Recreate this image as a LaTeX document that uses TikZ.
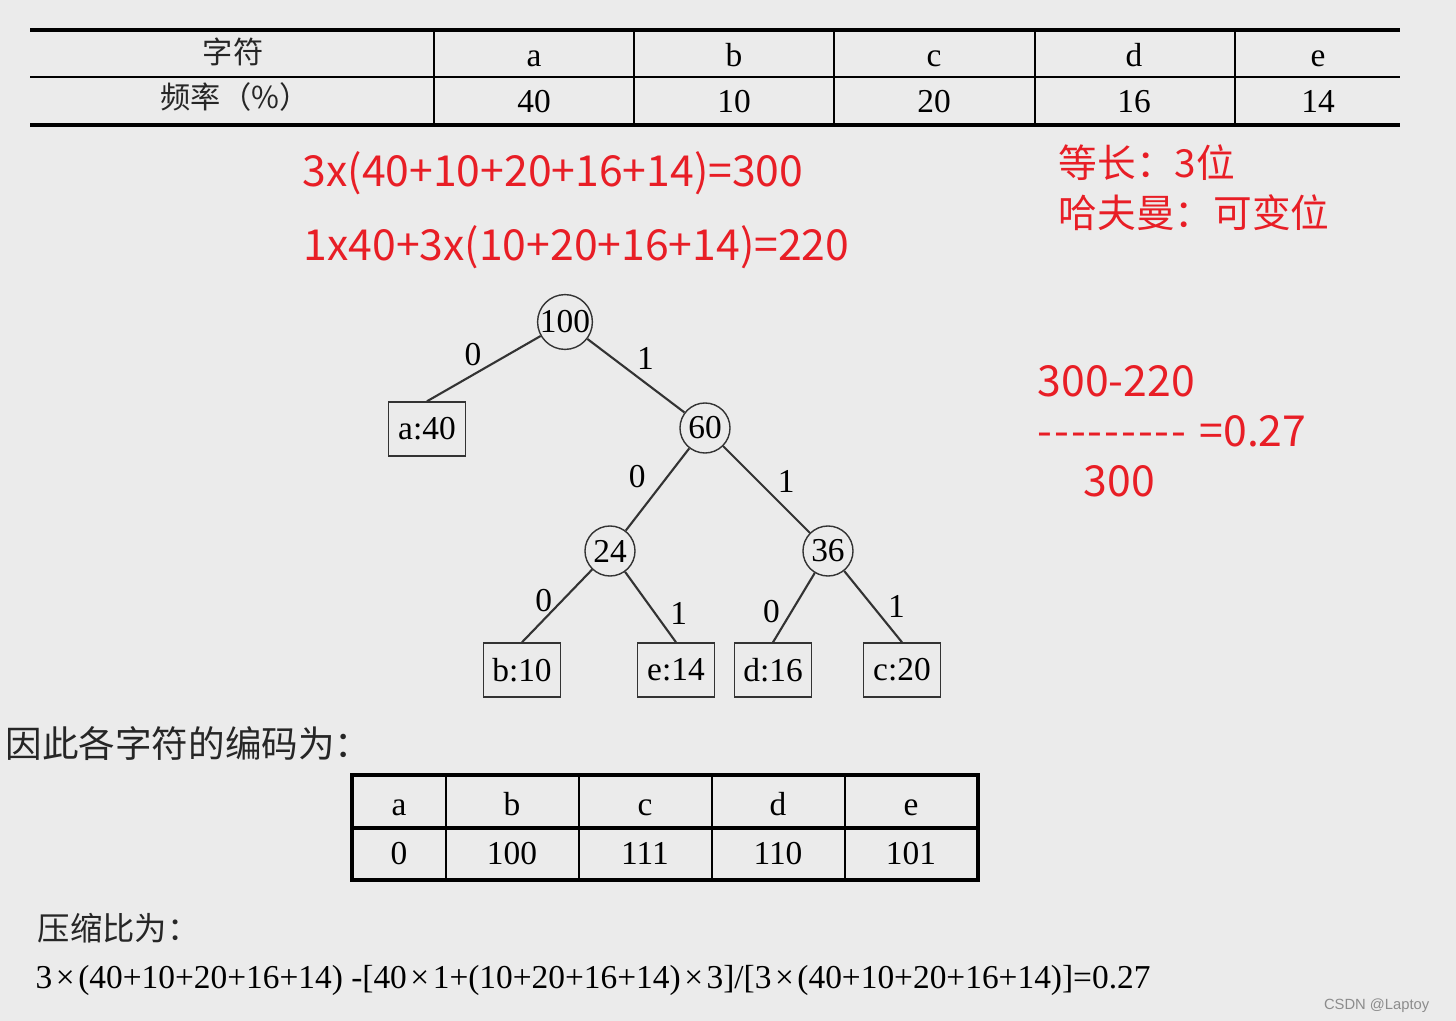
\documentclass[tikz,border=0pt]{standalone}
\usepackage{fontspec}
\setmainfont{Liberation Serif}
\newfontfamily\cjk{Noto Sans CJK SC}
\newfontfamily\wmfont{Liberation Sans}
\definecolor{bg}{RGB}{235,235,235}
\definecolor{hand}{RGB}{232,30,38}
\newcommand\tms{\kern1pt×\kern1pt}
\newcommand\dsh{-\kern0.55pt}

\begin{document}
\begin{tikzpicture}[x=0.01cm,y=-0.01cm,
		cell/.style={inner sep=0pt,font=\fontsize{9.5}{11}\selectfont},
		hzcell/.style={inner sep=0pt,font=\cjk\fontsize{8.6}{10}\selectfont,text=black!85},
		inner/.style={draw=black!80,circle,minimum size=0.5cm,inner sep=0pt,font=\fontsize{9.5}{11}\selectfont},
		leaf/.style={draw=black!80,minimum width=0.77cm,minimum height=0.54cm,inner sep=0pt,font=\fontsize{9.5}{11}\selectfont},
		branch/.style={draw=black!80,line width=0.6pt},
		bit/.style={inner sep=2pt,font=\fontsize{9.5}{11}\selectfont},
		note/.style={inner sep=0pt,anchor=west,text=hand,font=\cjk\fontsize{12.15}{14}\selectfont},
		hznote/.style={inner sep=0pt,anchor=west,text=hand,font=\cjk\fontsize{11}{13}\selectfont},
		caption/.style={inner sep=0pt,anchor=base west,text=black!85,font=\cjk\fontsize{10.4}{12}\selectfont}]
	\fill[bg] (0,0) rectangle (1456,1021);
	\useasboundingbox (0,0) rectangle (1456,1021);

	\draw[line width=0.9pt] (30,30) -- (1400,30);
	\draw[line width=0.6pt] (30,77) -- (1400,77);
	\draw[line width=0.9pt] (30,125) -- (1400,125);
	\foreach \x in {434,634,834,1035,1235}
		\draw[line width=0.6pt] (\x,30) -- (\x,125);
	\node[hzcell,anchor=base] (zf) at (233,64) {字符};
	\node[hzcell,anchor=base] (pl) at (235,109) {频率（\%）};
	\foreach \x/\sym/\val [count=\k] in {534/a/40,734/b/10,934/c/20,1134/d/16,1318/e/14}{
		\node[cell,anchor=base] (ch\k) at (\x,67) {\sym};
		\node[cell,anchor=base] (fq\k) at (\x,112) {\val};
	}

	\node[note] (fixed) at (302,173) {3x(40+10+20+16+14)=300};
	\node[note] (huff) at (303,247) {1x40+3x(10+20+16+14)=220};
	\node[hznote] (eqlen) at (1058,163) {等长：3位};
	\node[hznote] (varlen) at (1058,213) {哈夫曼：可变位};
	\node[note] (num) at (1037,381) {300-220};
	\node[note] (bar) at (1037,431) {\dsh\dsh\dsh\dsh\dsh\dsh\dsh\dsh-\hspace{1pt} =0.27};
	\node[note] (den) at (1083,481) {300};

	\node[inner] (r100) at (565,322) {100};
	\node[inner] (r60) at (705,428) {60};
	\node[inner] (r24) at (610,551) {24};
	\node[inner] (r36) at (828,551) {36};
	\node[leaf] (a40) at (427,429) {a:40};
	\node[leaf] (b10) at (522,670) {b:10};
	\node[leaf] (e14) at (676,670) {e:14};
	\node[leaf] (d16) at (773,670) {d:16};
	\node[leaf] (c20) at (902,670) {c:20};
	\draw[branch] (r100) -- (a40.north) node[bit,pos=.45,above left,yshift=-2.3pt] {0};
	\draw[branch] (r100) -- (r60) node[bit,pos=.5,above right,xshift=-2pt,yshift=-0.6pt] {1};
	\draw[branch] (r60) -- (r24) node[bit,pos=.45,above left,xshift=-2pt,yshift=-3.1pt] {0};
	\draw[branch] (r60) -- (r36) node[bit,pos=.5,above right,xshift=0.9pt,yshift=-3.1pt] {1};
	\draw[branch] (r24) -- (b10.north) node[bit,pos=.4,above left,xshift=-1.1pt,yshift=-6pt] {0};
	\draw[branch] (r24) -- (e14.north) node[bit,pos=.55,right,xshift=2.6pt,yshift=-0.9pt] {1};
	\draw[branch] (r36) -- (d16.north) node[bit,pos=.55,left,xshift=-1.1pt] {0};
	\draw[branch] (r36) -- (c20.north) node[bit,pos=.5,right,xshift=2pt] {1};

	\node[caption] (codes) at (5,758) {因此各字符的编码为：};
	\draw[line width=1.1pt] (352,775) rectangle (978,880);
	\draw[line width=0.9pt] (352,828) -- (978,828);
	\foreach \x in {446,579,712,845}
		\draw[line width=0.6pt] (\x,775) -- (\x,880);
	\foreach \x/\sym/\val [count=\k] in {399/a/0,512/b/100,645/c/111,778/d/110,911/e/101}{
		\node[cell,anchor=base] (cc\k) at (\x,815) {\sym};
		\node[cell,anchor=base] (cb\k) at (\x,864) {\val};
	}

	\node[caption,font=\cjk\fontsize{9.2}{11}\selectfont] (ratio) at (37,940) {压缩比为：};
	\node[cell,anchor=base west] (calc) at (35,988) {3\tms(40+10+20+16+14) -[40\tms1+(10+20+16+14)\tms3]/[3\tms(40+10+20+16+14)]=0.27};
	\node[inner sep=0pt,anchor=base east,text=black!45,font=\wmfont\fontsize{4.2}{5}\selectfont] (mark) at (1430,1009) {CSDN @Laptoy};
\end{tikzpicture}
\end{document}
